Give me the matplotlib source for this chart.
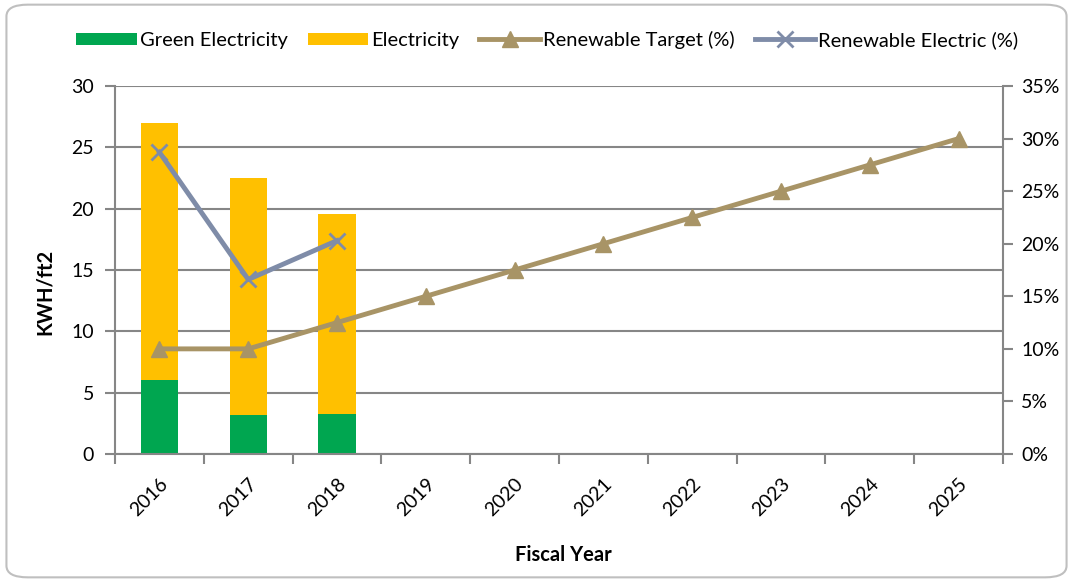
import matplotlib.pyplot as plt
from matplotlib.patches import FancyBboxPatch
from matplotlib.ticker import FuncFormatter
import matplotlib.transforms as mtransforms
import numpy as np

plt.rcParams['font.family'] = ['Lato', 'DejaVu Sans']

years = ["2016", "2017", "2018", "2019", "2020", "2021", "2022", "2023", "2024", "2025"]
green_elec = [6.0, 3.2, 3.3]
elec = [21.0, 19.3, 16.3]
target_pct = [10, 10, 12.5, 15, 17.5, 20, 22.5, 25, 27.5, 30]
renew_pct = [28.7, 16.6, 20.3]

GREEN = "#00A650"
YELLOW = "#FFC000"
TAN = "#A89466"
BLUEGRAY = "#7F8CA8"
GRID = "#868686"

fig = plt.figure(figsize=(10.73, 5.82), dpi=100)
# rounded chart border
fig.patches.append(FancyBboxPatch((0.006, 0.008), 0.988, 0.984,
                                  boxstyle="round,pad=0,rounding_size=0.02",
                                  transform=fig.transFigure, fill=False,
                                  edgecolor="#BFBFBF", linewidth=1.5))

ax = fig.add_axes([0.1072, 0.2199, 0.8276, 0.6323])
x = np.arange(len(years))
nb = len(green_elec)

ax.bar(x[:nb], green_elec, width=0.42, color=GREEN, label="Green Electricity", zorder=2)
ax.bar(x[:nb], elec, width=0.42, bottom=green_elec, color=YELLOW, label="Electricity", zorder=2)

ax.set_xlim(-0.5, len(years) - 0.5)
ax.set_ylim(0, 30)
ax.set_yticks(range(0, 31, 5))
ax.grid(axis="y", color=GRID, linewidth=1.5, zorder=0)
ax.set_axisbelow(True)
ax.set_xticks(x)
ax.set_xticklabels(years, rotation=45, fontsize=14, ha="right", va="top",
                   rotation_mode="anchor")
shift = mtransforms.ScaledTranslation(0.0, 0, fig.dpi_scale_trans)
for lab in ax.get_xticklabels():
    lab.set_transform(lab.get_transform() + shift)
ax.set_xticks(np.arange(-0.5, len(years)), minor=True)
ax.tick_params(axis="x", which="major", length=0, pad=15)
ax.tick_params(axis="x", which="minor", length=7, color=GRID, width=1.5)
ax.tick_params(axis="y", labelsize=14, length=7, color=GRID, width=1.5, pad=8)
for s in ["left", "right", "bottom"]:
    ax.spines[s].set_color(GRID)
    ax.spines[s].set_linewidth(1.5)
ax.spines["top"].set_visible(False)

fig.text(0.042, 0.498, "KWH/ft2", rotation=90, fontsize=14.5, fontweight="bold",
         ha="center", va="center")
fig.text(0.525, 0.046, "Fiscal Year", fontsize=14.5, fontweight="bold",
         ha="center", va="center")

ax2 = ax.twinx()
ax2.set_ylim(0, 35)
ax2.set_yticks(range(0, 36, 5))
ax2.yaxis.set_major_formatter(FuncFormatter(lambda v, p: "%d%%" % v))
ax2.tick_params(axis="y", labelsize=14, length=7, color=GRID, width=1.5, pad=6)
for s in ["left", "right", "bottom", "top"]:
    ax2.spines[s].set_visible(False)

ax2.plot(x, target_pct, color=TAN, linewidth=3.5, marker="^", markersize=12,
         label="Renewable Target (%)", zorder=3)
ax2.plot(x[:nb], renew_pct, color=BLUEGRAY, linewidth=3.5, marker="x", markersize=12,
         markeredgewidth=2, label="Renewable Electric (%)", zorder=4)

h1, l1 = ax.get_legend_handles_labels()
h2, l2 = ax2.get_legend_handles_labels()
fig.legend(h1 + h2, l1 + l2, loc="center", bbox_to_anchor=(0.51, 0.931), ncol=4,
           frameon=False, fontsize=14.5, handlelength=3.0, handletextpad=0.15,
           columnspacing=1.0, handleheight=0.6)

fig.savefig("out.png", dpi=100)
